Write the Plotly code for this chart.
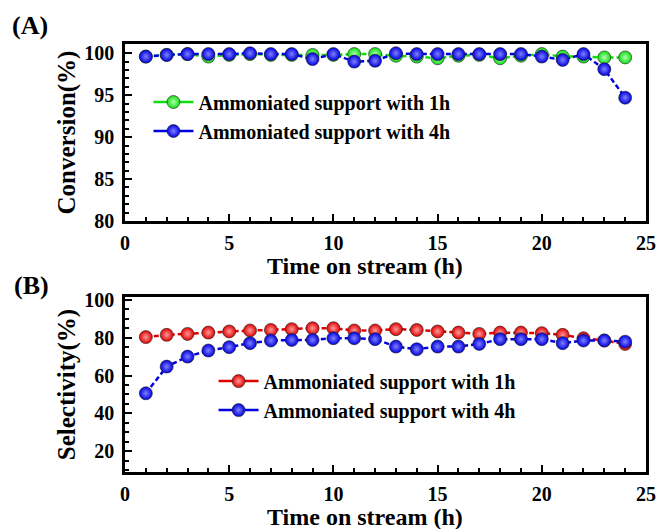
import plotly.graph_objects as go

time_h = list(range(1, 25))
conv_1h = [99.6, 99.8, 99.9, 99.6, 99.8, 99.9, 99.8, 99.8, 99.8, 99.8, 99.9, 99.9,
           99.7, 99.6, 99.4, 99.7, 99.8, 99.4, 99.7, 99.9, 99.6, 99.6, 99.5, 99.5]
conv_4h = [99.6, 99.8, 99.9, 99.9, 99.9, 100.0, 99.9, 99.9, 99.3, 99.9, 99.0, 99.1,
           100.0, 99.9, 99.9, 99.9, 99.9, 99.9, 99.9, 99.6, 99.2, 99.9, 98.1, 94.7]
sel_1h = [80.3, 81.5, 82.0, 82.7, 83.3, 83.8, 84.1, 84.5, 85.0, 85.0, 83.8, 83.8,
          84.5, 84.1, 83.3, 82.7, 82.0, 82.7, 82.7, 82.4, 81.5, 79.7, 78.5, 76.7]
sel_4h = [50.6, 64.7, 70.0, 73.2, 75.0, 77.1, 78.5, 78.8, 78.8, 79.7, 79.7, 79.2,
          75.3, 73.9, 75.3, 75.3, 76.7, 79.2, 79.2, 79.2, 77.1, 78.5, 78.5, 77.9]

name_1h = "Ammoniated support with 1h"
name_4h = "Ammoniated support with 4h"
x_title = "Time on stream (h)"

FONT = "Liberation Serif"
GREEN, GREEN_HI = "#10dd10", "#b0ffb0"
BLUE, BLUE_HI = "#0000e0", "#8080ff"
RED, RED_HI = "#e00000", "#ff9a9a"


def marker(c, hi):
    return dict(size=13, color=c, line=dict(color="#202020", width=0.6),
                gradient=dict(type="radial", color=hi))


fig = go.Figure()


def add(x, y, c, hi, xa, ya, name, legend):
    fig.add_trace(go.Scatter(x=x, y=y, mode="lines+markers", xaxis=xa, yaxis=ya,
                             line=dict(color=c, width=2.5, dash="5px,3px"),
                             marker=marker(c, hi), showlegend=False))
    fig.add_trace(go.Scatter(x=[None], y=[None], mode="lines+markers", xaxis=xa, yaxis=ya,
                             line=dict(color=c, width=2.5), marker=marker(c, hi),
                             name=name, legend=legend))


add(time_h, conv_1h, GREEN, GREEN_HI, "x", "y", name_1h, "legend")
add(time_h, conv_4h, BLUE, BLUE_HI, "x", "y", name_4h, "legend")
add(time_h, sel_1h, RED, RED_HI, "x2", "y2", name_1h, "legend2")
add(time_h, sel_4h, BLUE, BLUE_HI, "x2", "y2", name_4h, "legend2")

tickfont = dict(family=FONT, size=20, color="black", weight="bold")
xtitlefont = dict(family=FONT, size=24, color="black", weight="bold")
ytitlefont = dict(family=FONT, size=25, color="black", weight="bold")
legfont = dict(family=FONT, size=20, color="black", weight="bold")

axcommon = dict(showline=True, linecolor="black", linewidth=2.5, mirror=True,
                ticks="inside", ticklen=7, tickwidth=2, tickcolor="black",
                showgrid=False, zeroline=False, tickfont=tickfont, automargin=False,
                minor=dict(ticks="inside", ticklen=4, tickwidth=2, tickcolor="black"))

fig.update_layout(
    width=660, height=529,
    margin=dict(l=125, r=14, t=44, b=57),
    paper_bgcolor="white", plot_bgcolor="white",
    font=dict(family=FONT, color="black"),
    xaxis=dict(domain=[0, 1], anchor="y", range=[0, 25], dtick=5, ticklabelstandoff=2,
               **axcommon),
    yaxis=dict(domain=[0.5864, 1], anchor="x", range=[80, 101.1], dtick=5, ticklabelstandoff=4,
               title=dict(text="Conversion(%)", font=ytitlefont, standoff=2), **axcommon),
    xaxis2=dict(domain=[0, 1], anchor="y2", range=[0, 25], dtick=5, ticklabelstandoff=2,
                **axcommon),
    yaxis2=dict(domain=[0, 0.4089], anchor="x2", range=[9, 101.5], tick0=20, dtick=20,
                ticklabelstandoff=4,
                title=dict(text="Selectivity(%)", font=ytitlefont, standoff=2), **axcommon),
    legend=dict(x=0.045, y=0.91, xanchor="left", yanchor="top", bgcolor="rgba(0,0,0,0)",
                font=legfont, tracegroupgap=0, itemwidth=40),
    legend2=dict(x=0.17, y=0.258, xanchor="left", yanchor="top", bgcolor="rgba(0,0,0,0)",
                 font=legfont, tracegroupgap=0, itemwidth=40),
)

# annotations placed at pixel positions converted to paper coordinates
W, H, L, R, T, B = 660, 529, 125, 14, 44, 57
pw, ph = W - L - R, H - T - B


def px2paper(px, py):
    return (px - L) / pw, (H - B - py) / ph


for txt, px, py in [("(A)", 10, 25), ("(B)", 12, 285)]:
    ax, ay = px2paper(px, py)
    fig.add_annotation(text=txt, x=ax, y=ay, xref="paper", yref="paper",
                       showarrow=False, xanchor="left", yanchor="middle",
                       font=dict(family=FONT, size=26, color="black", weight="bold"))

for py in (266, 517):
    ax, ay = px2paper(365, py)
    fig.add_annotation(text=x_title, x=ax, y=ay, xref="paper", yref="paper",
                       showarrow=False, xanchor="center", yanchor="middle", font=xtitlefont)

fig.write_html("out.html")
